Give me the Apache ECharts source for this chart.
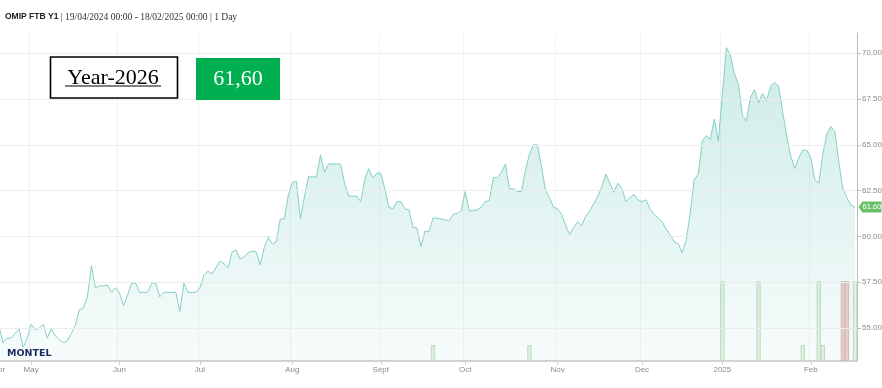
<!DOCTYPE html>
<html><head><meta charset="utf-8">
<script src="https://cdn.jsdelivr.net/npm/echarts@6/dist/echarts.min.js"></script>
<style>html,body{margin:0;padding:0;background:#fff}#c{width:882px;height:388px}</style>
</head><body><div id="c"></div>
<script>
// ---- data ----
const startDate = '2024-04-19';
const endDate = '2025-02-18';
const holidays = ['2024-05-01', '2024-12-25', '2024-12-26', '2025-01-01'];
const monthNames = ['2025', 'Feb', 'Mar', 'Apr', 'May', 'Jun', 'Jul', 'Aug', 'Sept', 'Oct', 'Nov', 'Dec'];
const yTicks = [55, 57.5, 60, 62.5, 65, 67.5, 70];
const prices = [
  55.1, 54.2, 54.45, 54.45, 54.7, 54.95, 53.95, 54.4, 55.2, 54.9,
  55.0, 55.2, 54.45, 54.95, 54.6, 54.35, 54.2, 54.3, 54.7, 55.15,
  56.0, 56.1, 56.7, 58.4, 57.2, 57.3, 57.3, 57.35, 56.95, 57.2,
  56.9, 56.2, 56.8, 57.45, 57.45, 56.95, 56.95, 56.95, 57.45, 57.45,
  56.7, 56.95, 56.95, 56.95, 56.95, 55.9, 57.45, 56.95, 56.95, 56.95,
  57.2, 57.9, 58.1, 57.95, 58.3, 58.65, 58.5, 58.3, 59.15, 59.25,
  58.75, 58.9, 59.1, 59.2, 59.15, 58.45, 59.4, 59.95, 59.6, 59.7,
  60.95, 60.95, 62.25, 62.95, 63.0, 60.95, 62.15, 63.25, 63.25, 63.25,
  64.45, 63.5, 63.95, 63.95, 63.95, 63.95, 62.9, 62.2, 62.2, 62.2,
  61.9, 63.1, 63.7, 63.2, 63.45, 63.45, 62.6, 61.6, 61.5, 61.9,
  61.9, 61.5, 61.45, 60.5, 60.45, 59.45, 60.3, 60.25, 61.0, 61.0,
  60.95, 60.9, 60.85, 61.2, 61.25, 61.4, 62.45, 61.4, 61.4, 61.45,
  61.6, 61.9, 61.95, 63.2, 63.2, 63.5, 63.95, 62.6, 62.6, 62.45,
  62.45, 63.6, 64.5, 65.0, 65.0, 63.8, 62.5, 62.1, 61.6, 61.5,
  61.2, 60.6, 60.1, 60.5, 60.8, 60.6, 61.1, 61.4, 61.8, 62.2,
  62.7, 63.4, 62.9, 62.4, 62.9, 62.6, 61.9, 62.1, 62.3, 62.0,
  61.9, 62.0, 61.5, 61.2, 61.0, 60.8, 60.4, 60.1, 59.7, 59.6,
  59.1, 59.8, 61.3, 63.1, 63.4, 65.2, 65.5, 65.3, 66.4, 65.2,
  67.8, 70.3, 69.9, 68.9, 68.3, 66.6, 66.3, 67.6, 68.0, 67.3,
  67.8, 67.4, 68.2, 68.4, 68.2, 66.8, 65.5, 64.4, 63.7, 64.3,
  64.7, 64.7, 64.3, 63.1, 62.9, 64.5, 65.6, 66.0, 65.7, 64.0,
  62.6, 62.1, 61.7, 61.6
];
const volumeDates = ['2024-09-19', '2024-10-23', '2025-01-02', '2025-01-15', '2025-01-30', '2025-02-05', '2025-02-06', '2025-02-13', '2025-02-14', '2025-02-18'];
const volumeValues = [1, 1, 5, 5, 1, 5, 1, 5, 5, 5];
const volumeDown = [false, false, false, false, false, false, false, true, true, false];
const lastValue = 61.60;

// ---- categories: trading days ----
function fmt(d) {
  const m = d.getUTCMonth() + 1, day = d.getUTCDate();
  return d.getUTCFullYear() + '-' + (m < 10 ? '0' : '') + m + '-' + (day < 10 ? '0' : '') + day;
}
const dates = [];
for (let d = new Date(startDate + 'T00:00:00Z'); d <= new Date(endDate + 'T00:00:00Z'); d.setUTCDate(d.getUTCDate() + 1)) {
  const wd = d.getUTCDay();
  const s = fmt(d);
  if (wd !== 0 && wd !== 6 && holidays.indexOf(s) < 0) dates.push(s);
}
const isMonthStart = (i) => i === 0 || dates[i].slice(0, 7) !== dates[i - 1].slice(0, 7);
const volumeData = dates.map(() => null);
volumeDates.forEach((d, k) => {
  const idx = dates.indexOf(d);
  if (idx >= 0) {
    volumeData[idx] = {
      value: volumeValues[k],
      itemStyle: volumeDown[k]
        ? { color: 'rgba(236,196,196,0.85)', borderColor: '#dfb3b3', borderWidth: 1 }
        : { color: 'rgba(222,238,217,0.75)', borderColor: '#c6dcc0', borderWidth: 1 }
    };
  }
});

const chart = echarts.init(document.getElementById('c'));
chart.setOption({
  animation: false,
  backgroundColor: '#fff',
  grid: { left: -3, right: 25, top: 33, bottom: 27, containLabel: false, outerBoundsMode: 'none' },
  xAxis: {
    type: 'category',
    data: dates,
    boundaryGap: true,
    axisLine: { show: true, lineStyle: { color: '#d3d3d3', width: 2 } },
    axisTick: { show: true, alignWithLabel: true, interval: (i) => isMonthStart(i), length: 4, lineStyle: { color: '#cfcfcf' } },
    splitLine: { show: true, interval: (i) => isMonthStart(i), lineStyle: { color: '#f2f2f2', width: 1 } },
    axisLabel: {
      interval: (i) => isMonthStart(i),
      formatter: (v) => monthNames[parseInt(v.slice(5, 7), 10) - 1],
      color: '#8a8a8a', fontSize: 8, fontFamily: 'Liberation Sans, Arial', margin: 5
    }
  },
  yAxis: [{
    type: 'value',
    position: 'right',
    min: 53.2, max: 71.1,
    axisLine: { show: true, lineStyle: { color: '#bdbdbd', width: 1 } },
    axisTick: { show: true, customValues: yTicks, length: 4, lineStyle: { color: '#bdbdbd' } },
    splitLine: { show: false },
    axisLabel: {
      customValues: yTicks,
      formatter: (v) => v.toFixed(2),
      color: '#8a8a8a', fontSize: 8, fontFamily: 'Liberation Sans, Arial', margin: 5
    }
  }, {
    type: 'value', min: 0, max: 20.5, show: false, splitLine: { show: false }
  }],
  series: [{
    type: 'bar',
    yAxisIndex: 1,
    data: volumeData,
    barWidth: 4.4,
    z: 1
  }, {
    type: 'line',
    data: prices,
    symbol: 'none',
    z: 3,
    lineStyle: { color: '#84cfc5', width: 1 },
    areaStyle: {
      color: new echarts.graphic.LinearGradient(0, 0, 0, 1, [
        { offset: 0, color: 'rgba(130,207,197,0.58)' },
        { offset: 1, color: 'rgba(130,207,197,0.09)' }
      ])
    },
    markLine: {
      silent: true, symbol: 'none', animation: false,
      label: { show: false },
      lineStyle: { color: '#ececec', type: 'solid', width: 1 },
      data: yTicks.map(v => ({ yAxis: v }))
    },
    markPoint: {
      silent: true, animation: false,
      symbol: 'path://M0,5 L4,0 L24,0 L24,10 L4,10 Z',
      symbolSize: [23, 11],
      symbolKeepAspect: false,
      symbolOffset: [15, 0],
      itemStyle: { color: '#6abf69' },
      label: { show: true, position: 'inside', color: '#fff', fontSize: 7.5, fontFamily: 'Liberation Sans, Arial', offset: [2, 0], formatter: () => lastValue.toFixed(2) },
      data: [{ coord: [dates.length - 1, lastValue] }]
    }
  }],
  graphic: [
    {
      type: 'text', left: 5, top: 12,
      style: {
        rich: {
          b: { fontFamily: 'Liberation Sans, Arial', fontWeight: 'bold', fontSize: 8.5, fill: '#222' },
          n: { fontFamily: 'Liberation Serif, Times New Roman', fontSize: 9.5, fill: '#333' }
        },
        text: '{b|OMIP FTB Y1}{n| | 19/04/2024 00:00 - 18/02/2025 00:00 | 1 Day}'
      }
    },
    { type: 'rect', shape: { x: 50.5, y: 57, width: 127, height: 41 }, style: { fill: '#fff', stroke: '#000', lineWidth: 1.6 }, z: 10 },
    { type: 'text', x: 113, y: 78, style: { text: 'Year-2026', fontFamily: 'Liberation Serif, Times New Roman', fontSize: 22, fill: '#000', align: 'center', verticalAlign: 'middle' }, z: 11 },
    { type: 'line', shape: { x1: 65, y1: 86, x2: 161, y2: 86 }, style: { stroke: '#000', lineWidth: 1.2 }, z: 11 },
    { type: 'rect', shape: { x: 196, y: 58, width: 84, height: 42 }, style: { fill: '#00b050' }, z: 10 },
    { type: 'text', x: 238, y: 79, style: { text: '61,60', fontFamily: 'Liberation Serif, Times New Roman', fontSize: 22, fill: '#fff', align: 'center', verticalAlign: 'middle' }, z: 11 },
    { type: 'text', x: 7, y: 349, style: { text: 'MONTEL', fontFamily: 'DejaVu Sans', fontWeight: 'bold', fontSize: 9.5, fill: '#1b2a5c' }, z: 11 }
  ]
});
</script>
</body></html>
